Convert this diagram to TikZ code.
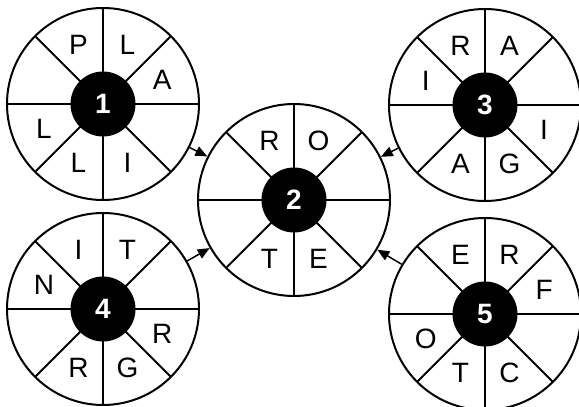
\documentclass[tikz,border=0pt]{standalone}
\usepackage{fontspec}
\setmainfont{Liberation Sans}
\usetikzlibrary{arrows.meta}
\newcommand\drawwheel[4]{%
  \node[wheel] (#1) at (#2) {};
  \begin{scope}[shift={(#2)}]
    \foreach \a in {0,45,...,315} \draw[spoke] (0,0) -- (\a:96);
    \node[hub] (#1h) at (0,0) {#3};
    \foreach \a/\l [count=\i] in {#4} \node[letter] (#1l\i) at (\a:64) {\l};
  \end{scope}
}
\begin{document}
\begin{tikzpicture}[x=1pt,y=1pt,
  wheel/.style={circle, draw, line width=2pt, minimum size=192pt, inner sep=0pt},
  hub/.style={circle, fill=black, minimum size=65pt, inner sep=0pt, text=white,
    font=\fontsize{28}{28}\selectfont\bfseries},
  letter/.style={font=\fontsize{28}{28}\selectfont, inner sep=0pt},
  spoke/.style={line width=1.8pt},
  link/.style={line width=1.5pt, -{Triangle[length=12pt,width=10pt]}}]
\useasboundingbox (0,0) rectangle (579,407);
\clip (0,0) rectangle (579,407);
\drawwheel{w1}{103,303}{1}{112.5/P,67.5/L,22.5/A,-67.5/I,-112.5/L,-157.5/L}
\drawwheel{w2}{294,207}{2}{112.5/R,67.5/O,-67.5/E,-112.5/T}
\drawwheel{w3}{485,302}{3}{112.5/R,67.5/A,157.5/I,-22.5/I,-67.5/G,-112.5/A}
\drawwheel{w4}{103,98}{4}{112.5/I,67.5/T,157.5/N,-22.5/R,-67.5/G,-112.5/R}
\drawwheel{w5}{485,93}{5}{112.5/E,67.5/R,22.5/F,-157.5/O,-112.5/T,-67.5/C}
\draw[link] (w1) -- (w2);
\draw[link] (w3) -- (w2);
\draw[link] (w4) -- (w2);
\draw[link] (w5) -- (w2);
\end{tikzpicture}
\end{document}
